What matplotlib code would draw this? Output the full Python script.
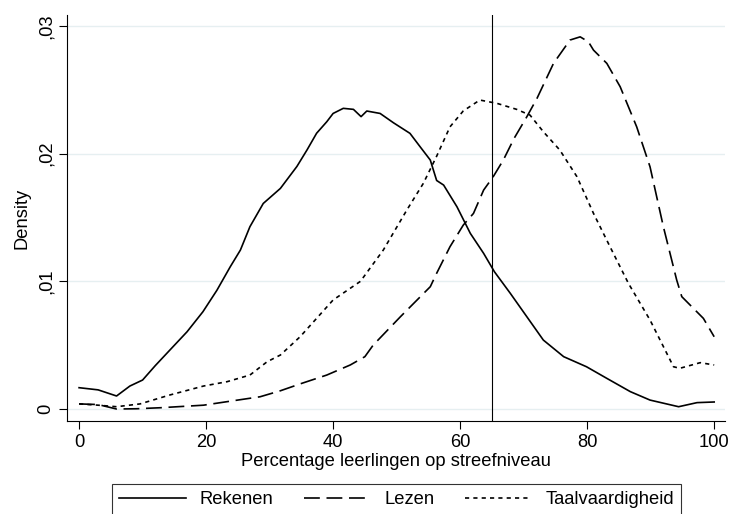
import numpy as np
import matplotlib.pyplot as plt

plt.rcParams['font.family'] = ['Liberation Sans', 'DejaVu Sans']

# kernel density estimates, percentage of pupils at target level
rek_x = [0, 3, 5.9, 8, 10, 12, 14.3, 17, 19.5, 21.7, 23.8, 25.4, 26.9, 29.0, 31.7,
         34.3, 35.9, 37.4, 39.0, 40.0, 41.6, 43.2, 44.4, 45.3, 47.4, 49.5, 52.1,
         53.7, 55.3, 56.3, 57.4, 59.5, 61.6, 63.7, 65.4, 67.9, 70.5, 73.1, 76.3,
         79.9, 83.1, 86.8, 89.9, 94.4, 97.3, 100]
rek_y = [.00167, .00150, .00102, .00180, .00227, .00340, .00462, .00605, .00762,
         .0093, .01114, .01245, .01428, .0161, .01728, .0190, .0203, .0216, .0225,
         .02315, .02355, .02347, .0229, .02334, .02315, .02242, .02159, .02054,
         .0195, .0179, .01754, .01584, .01376, .01219, .01075, .00906, .00723,
         .0054, .0041, .00331, .0024, .00136, .0007, .00018, .0005, .00055]

lez_x = [0, 3, 5.9, 9, 12.8, 19.6, 24.3, 28.5, 31.7, 35, 39.0, 42.7, 45.0, 46.3,
         50.6, 55.3, 56.3, 58.4, 60.5, 62.1, 63.7, 65.2, 66.8, 68.5, 70.5, 72.1,
         74.7, 77.3, 78.9, 80.2, 81.0, 83.1, 85.2, 87.8, 89.9, 92.0, 94.1, 94.9,
         98.3, 100]
lez_y = [.0004, .00035, .0000, .00002, .0001, .0003, .00065, .00096, .00143, .0020,
         .00266, .00345, .0041, .005, .00723, .00958, .01063, .01271, .01441,
         .01532, .01715, .01819, .0195, .0212, .02289, .02433, .02707, .0289,
         .02915, .02876, .02811, .02707, .02524, .0221, .01897, .01428, .0101,
         .0088, .0071, .00566]

taal_x = [0, 3, 5.9, 9.6, 14.3, 19.6, 23.3, 26.9, 29.6, 31.7, 34.8, 40.0, 44.3,
          47.9, 51.6, 54.2, 56.3, 58.4, 60.5, 63.1, 65.8, 68.9, 71.0, 73.1, 75.7,
          78.4, 81.0, 83.6, 86.5, 89.9, 93.6, 94.6, 97.8, 100]
taal_y = [.0004, .0003, .00018, .0004, .0011, .0018, .00214, .00266, .0037, .00423,
          .00566, .00854, .0100, .01245, .01558, .01767, .0198, .0221, .02335,
          .0242, .02394, .02347, .02302, .02172, .02028, .01819, .01532, .01271,
          .00984, .00697, .00331, .00319, .00363, .00345]

norm = 65
xticks = [0, 20, 40, 60, 80, 100]
yticks = [0, 0.01, 0.02, 0.03]
ylabels = ['0', ',01', ',02', ',03']
fs = 13.2

fig = plt.figure(figsize=(7.34, 5.14), dpi=100)
ax = fig.add_axes([0.0913, 0.1809, 0.8964, 0.7899])

for y in yticks:
    ax.axhline(y, color='#e6eff1', lw=1.0, zorder=0)

lw = 1.2
ax.plot(rek_x, rek_y, color='black', lw=lw, label='Rekenen')
ax.plot(lez_x, lez_y, color='black', lw=lw, dashes=(9.5, 4), label='Lezen')
ax.plot(taal_x, taal_y, color='black', lw=lw, dashes=(2.5, 2.5), label='Taalvaardigheid')
ax.axvline(norm, color='black', lw=0.8)

ax.set_xlim(-1.9, 101.7)
ax.set_ylim(-0.00094, 0.03086)
ax.set_xticks(xticks)
ax.set_yticks(yticks)
ax.set_yticklabels(ylabels, rotation=90, va='center')
ax.tick_params(axis='both', direction='out', length=6, width=0.8, labelsize=fs,
               color='black', pad=3)
for s in ['top', 'right']:
    ax.spines[s].set_visible(False)
for s in ['left', 'bottom']:
    ax.spines[s].set_linewidth(0.8)

ax.set_xlabel('Percentage leerlingen op streefniveau', fontsize=fs, labelpad=2)
ax.set_ylabel('Density', fontsize=fs, labelpad=5)

leg = fig.legend(loc='upper center', bbox_to_anchor=(0.540, 30 / 514), ncol=3,
                 fontsize=fs, frameon=True, fancybox=False, edgecolor='black',
                 handlelength=3.65, handletextpad=0.75, columnspacing=1.65,
                 borderpad=0.4, borderaxespad=0)
leg.get_frame().set_linewidth(0.8)

fig.savefig('out.png', dpi=100)
